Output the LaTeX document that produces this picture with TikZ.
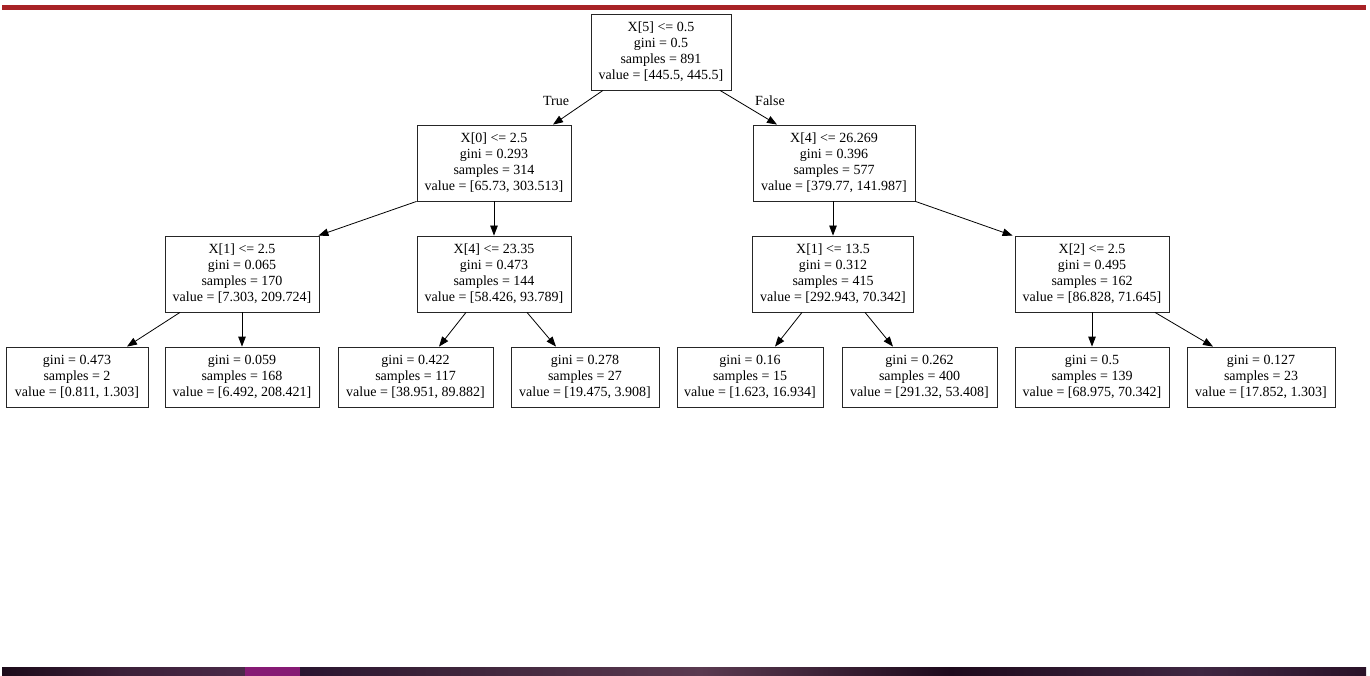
\documentclass[tikz,border=0pt]{standalone}
\usepackage{fontspec}
\setmainfont{Liberation Serif}
\usetikzlibrary{arrows.meta}
\definecolor{topred}{HTML}{A82226}
\definecolor{bA}{HTML}{1C0B1A}
\definecolor{bB}{HTML}{3B2038}
\definecolor{bC}{HTML}{4A2A48}
\definecolor{bM}{HTML}{861A74}
\definecolor{bD}{HTML}{2A1530}
\definecolor{bE}{HTML}{3A2238}
\definecolor{bF}{HTML}{5A3A50}
\definecolor{bG}{HTML}{1E0A1C}
\definecolor{bH}{HTML}{3F2742}
\definecolor{bI}{HTML}{2A1228}
\tikzset{
  box/.style={draw=black!85, line width=0.8pt, inner sep=0pt, align=center,
    font=\fontsize{14}{16}\selectfont, minimum height=76pt},
  leaf/.style={box, minimum height=60pt},
  edge/.style={line width=0.8pt, -{Triangle[length=10pt,width=7.5pt]}},
  elabel/.style={font=\fontsize{14}{16}\selectfont, inner sep=0pt}
}
\begin{document}
\begin{tikzpicture}[x=1pt,y=-1pt]
\useasboundingbox (0,0) rectangle (1370,676);
% top bar
\fill[topred] (2,5) rectangle (1366,10.5);
% bottom bar
\shade[left color=bA,right color=bB] (2,667) rectangle (120.5,676);
\shade[left color=bB,right color=bC] (120,667) rectangle (245.5,676);
\fill[bM] (245,667) rectangle (300.5,676);
\shade[left color=bD,right color=bE] (300,667) rectangle (420.5,676);
\shade[left color=bE,right color=bF] (420,667) rectangle (700.5,676);
\shade[left color=bF,right color=bG] (700,667) rectangle (950.5,676);
\shade[left color=bG,right color=bH] (950,667) rectangle (1200.5,676);
\shade[left color=bH,right color=bI] (1200,667) rectangle (1366,676);

% internal nodes
\node[box, minimum width=140pt] (root) at (661,52) {X[5] <= 0.5\\gini = 0.5\\samples = 891\\value = [445.5, 445.5]};
\node[box, minimum width=154pt] (n1) at (494,163) {X[0] <= 2.5\\gini = 0.293\\samples = 314\\value = [65.73, 303.513]};
\node[box, minimum width=162pt] (n2) at (834,163) {X[4] <= 26.269\\gini = 0.396\\samples = 577\\value = [379.77, 141.987]};
\node[box, minimum width=154pt] (n3) at (242,274) {X[1] <= 2.5\\gini = 0.065\\samples = 170\\value = [7.303, 209.724]};
\node[box, minimum width=154pt] (n4) at (494,274) {X[4] <= 23.35\\gini = 0.473\\samples = 144\\value = [58.426, 93.789]};
\node[box, minimum width=161pt] (n5) at (833,274) {X[1] <= 13.5\\gini = 0.312\\samples = 415\\value = [292.943, 70.342]};
\node[box, minimum width=154pt] (n6) at (1092,274) {X[2] <= 2.5\\gini = 0.495\\samples = 162\\value = [86.828, 71.645]};
% leaves
\node[leaf, minimum width=142pt] (l1) at (77,377) {gini = 0.473\\samples = 2\\value = [0.811, 1.303]};
\node[leaf, minimum width=154pt] (l2) at (242,377) {gini = 0.059\\samples = 168\\value = [6.492, 208.421]};
\node[leaf, minimum width=155pt] (l3) at (415.5,377) {gini = 0.422\\samples = 117\\value = [38.951, 89.882]};
\node[leaf, minimum width=148pt] (l4) at (585,377) {gini = 0.278\\samples = 27\\value = [19.475, 3.908]};
\node[leaf, minimum width=146pt] (l5) at (750,377) {gini = 0.16\\samples = 15\\value = [1.623, 16.934]};
\node[leaf, minimum width=155pt] (l6) at (919.5,377) {gini = 0.262\\samples = 400\\value = [291.32, 53.408]};
\node[leaf, minimum width=154pt] (l7) at (1092,377) {gini = 0.5\\samples = 139\\value = [68.975, 70.342]};
\node[leaf, minimum width=148pt] (l8) at (1261,377) {gini = 0.127\\samples = 23\\value = [17.852, 1.303]};

% edges
\draw[edge] ([xshift=-58pt]root.south) -- ([xshift=59pt]n1.north);
\draw[edge] ([xshift=59pt]root.south) -- ([xshift=-57pt]n2.north);
\node[elabel] (tl) at (556,101) {True};
\node[elabel] (fl) at (770,101) {False};
\draw[edge] (n1.south west) -- ([xshift=-1pt]n3.north east);
\draw[edge] (n1.south) -- (n4.north);
\draw[edge] ([xshift=-1pt]n2.south) -- (n5.north);
\draw[edge] (n2.south east) -- ([xshift=-2pt]n6.north west);
\draw[edge] ([xshift=-62pt]n3.south) -- ([xshift=50pt]l1.north);
\draw[edge] (n3.south) -- (l2.north);
\draw[edge] ([xshift=-28pt]n4.south) -- ([xshift=23.5pt]l3.north);
\draw[edge] ([xshift=33pt]n4.south) -- ([xshift=-29pt]l4.north);
\draw[edge] ([xshift=-31pt]n5.south) -- ([xshift=25pt]l5.north);
\draw[edge] ([xshift=32pt]n5.south) -- ([xshift=-26.5pt]l6.north);
\draw[edge] (n6.south) -- (l7.north);
\draw[edge] ([xshift=63pt]n6.south) -- ([xshift=-48pt]l8.north);
\end{tikzpicture}
\end{document}
